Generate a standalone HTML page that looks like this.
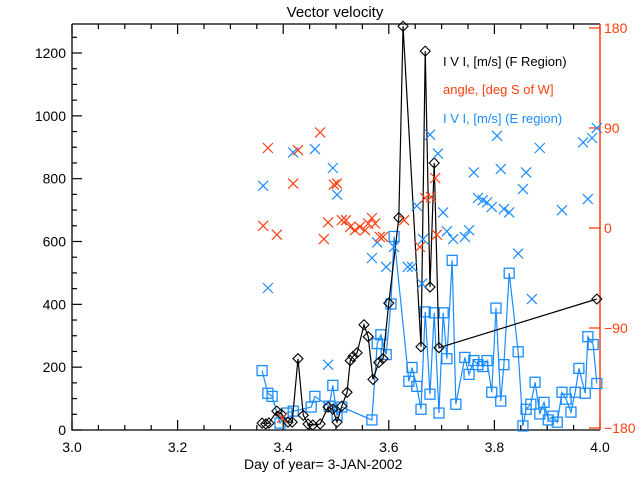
<!DOCTYPE html>
<html><head><meta charset="utf-8"><style>
body{margin:0;background:#fff}
svg{display:block;font-family:"Liberation Sans",sans-serif}
</style></head><body>
<svg id="chart" width="640" height="480" viewBox="0 0 640 480" xmlns="http://www.w3.org/2000/svg">
<rect width="640" height="480" fill="#fff"/>
<text x="335" y="17" font-size="15" text-anchor="middle">Vector velocity</text>
<text x="244" y="469" font-size="14">Day of year= 3-JAN-2002</text>
<text x="443" y="66" font-size="13" fill="#000">I V I, [m/s] (F Region)</text>
<text x="443" y="94" font-size="13" fill="#ff4010">angle, [deg S of W]</text>
<text x="443" y="123" font-size="13" fill="#1a8cff">I V I, [m/s] (E region)</text>
<g id="axes"></g><g id="marks"></g>
</svg>
<script>
const xTicks=[3.0,3.2,3.4,3.6,3.8,4.0];
const yTicks=[0,200,400,600,800,1000,1200];
const angTicks=[-180,-90,0,90,180];
const fDays=[3.360,3.367,3.373,3.388,3.396,3.409,3.417,3.428,3.438,3.447,3.456,3.470,3.485,3.494,3.502,3.511,3.521,3.527,3.532,3.540,3.553,3.561,3.570,3.581,3.589,3.600,3.619,3.627,3.661,3.669,3.678,3.686,3.695,3.994];
const fVals=[22,19,22,60,51,25,25,227,47,19,16,19,73,66,25,76,120,221,234,246,335,297,161,215,227,404,676,1285,265,1206,455,850,262,417];
const eDays=[3.360,3.371,3.379,3.394,3.407,3.419,3.453,3.460,3.487,3.494,3.502,3.511,3.568,3.578,3.585,3.595,3.604,3.610,3.638,3.644,3.653,3.661,3.669,3.678,3.686,3.695,3.703,3.710,3.720,3.727,3.744,3.752,3.761,3.769,3.778,3.786,3.795,3.803,3.812,3.818,3.828,3.845,3.854,3.860,3.869,3.877,3.886,3.894,3.902,3.911,3.919,3.928,3.936,3.945,3.953,3.960,3.972,3.977,3.987,3.994];
const eVals=[189,117,107,22,54,60,73,107,76,142,47,73,32,275,303,240,401,616,155,199,139,66,376,114,373,54,373,227,540,82,231,177,221,208,202,221,120,388,92,208,499,249,13,66,82,152,51,88,32,44,25,120,98,57,120,196,117,297,272,148];
const fAngDays=[3.362,3.371,3.388,3.398,3.419,3.428,3.470,3.477,3.485,3.496,3.502,3.511,3.519,3.527,3.536,3.545,3.555,3.561,3.568,3.574,3.583,3.589,3.629,3.659,3.669,3.680,3.688,3.691];
const fAngs=[2,72,-6,-171,40,70,86,-10,5,39,40,7,7,1,-2,1,-2,4,9,4,-8,-8,7,-17,27,28,45,-6];
const eAngDays=[3.362,3.371,3.419,3.460,3.485,3.494,3.502,3.568,3.578,3.595,3.610,3.636,3.644,3.653,3.663,3.665,3.678,3.693,3.703,3.710,3.722,3.744,3.752,3.761,3.769,3.778,3.786,3.795,3.805,3.812,3.818,3.828,3.845,3.854,3.860,3.871,3.886,3.928,3.968,3.977,3.985,3.994];
const eAngs=[38,-54,68,71,-123,54,30,-27,-13,-35,-17,-35,-35,20,-50,-10,84,67,14,-3,-10,-8,-2,50,27,25,23,19,83,53,17,14,-23,35,50,-64,72,16,77,26,81,90];

const X0=72,X1=600,YT=24,YB=430;
const xs=d=>X0+(d-3)*(X1-X0);
const ys=v=>YB-v*377/1200;
const as=a=>228-a*400/360;
const NS='http://www.w3.org/2000/svg';
const RED='#ff4010',BLUE='#1a8cff';
function mk(tag,attrs,parent){const e=document.createElementNS(NS,tag);for(const k in attrs)e.setAttribute(k,attrs[k]);parent.appendChild(e);return e;}
const axes=document.getElementById('axes'),marks=document.getElementById('marks');
let e;
e=mk('path',{d:`M${X0},${YT}H${X1}M${X0},${YT}V${YB}H${X1}`,stroke:'#000',fill:'none','stroke-width':1.3},axes);


for(let i=0;i<=20;i++){const d=3+i*0.05,x=xs(d),L=i%4==0?10:5;
 e=mk('path',{d:`M${x},${YB}v${-L}M${x},${YT}v${L}`,stroke:'#000','stroke-width':1.2},axes);
 
 }
xTicks.forEach(t=>{e=mk('text',{x:xs(t),y:YB+22,'font-size':14,'text-anchor':'middle'},axes);e.textContent=t.toFixed(1);
 
 });
for(let v=0;v<=1250;v+=50){const y=ys(v),L=v%200==0?10:5;
 e=mk('path',{d:`M${X0},${y}h${L}`,stroke:'#000','stroke-width':1.2},axes);
 
 }
yTicks.forEach(t=>{e=mk('text',{x:X0-6,y:ys(t)+5,'font-size':14,'text-anchor':'end'},axes);e.textContent=t;
 
 });
e=mk('path',{d:`M${X1},${YT}V${YB}`,stroke:RED,'stroke-width':1.5},axes);


angTicks.forEach(t=>{const y=as(t);
 e=mk('path',{d:`M${X1},${y}h-11`,stroke:RED,'stroke-width':1.3},axes);
 
 
 e=mk('text',{x:X1+4,y:y+5,'font-size':14,fill:RED},axes);e.textContent=t<0?'\u2212'+(-t):t;
 
 });
// E region line + squares
e=mk('polyline',{points:eDays.map((d,i)=>xs(d)+','+ys(eVals[i])).join(' '),fill:'none',stroke:BLUE,'stroke-width':1.2},marks);


eDays.forEach((d,i)=>{e=mk('rect',{x:xs(d)-5,y:ys(eVals[i])-5,width:10,height:10,fill:'none',stroke:BLUE,'stroke-width':1.3},marks);
 
 });
// F region line + diamonds
e=mk('polyline',{points:fDays.map((d,i)=>xs(d)+','+ys(fVals[i])).join(' '),fill:'none',stroke:'#000','stroke-width':1.2},marks);


fDays.forEach((d,i)=>{const x=xs(d),y=ys(fVals[i]);
 e=mk('path',{d:`M${x},${y-5}L${x+5},${y}L${x},${y+5}L${x-5},${y}Z`,fill:'none',stroke:'#000','stroke-width':1.1},marks);
 
 });
function cross(x,y,c,name){e=mk('path',{d:`M${x-5},${y-5}L${x+5},${y+5}M${x-5},${y+5}L${x+5},${y-5}`,stroke:c,'stroke-width':1.2},marks);
 
 }
eAngDays.forEach((d,i)=>cross(xs(d),as(eAngs[i]),BLUE,'e-angle-point'));
fAngDays.forEach((d,i)=>cross(xs(d),as(fAngs[i]),RED,'f-angle-point'));
</script>
</body></html>
